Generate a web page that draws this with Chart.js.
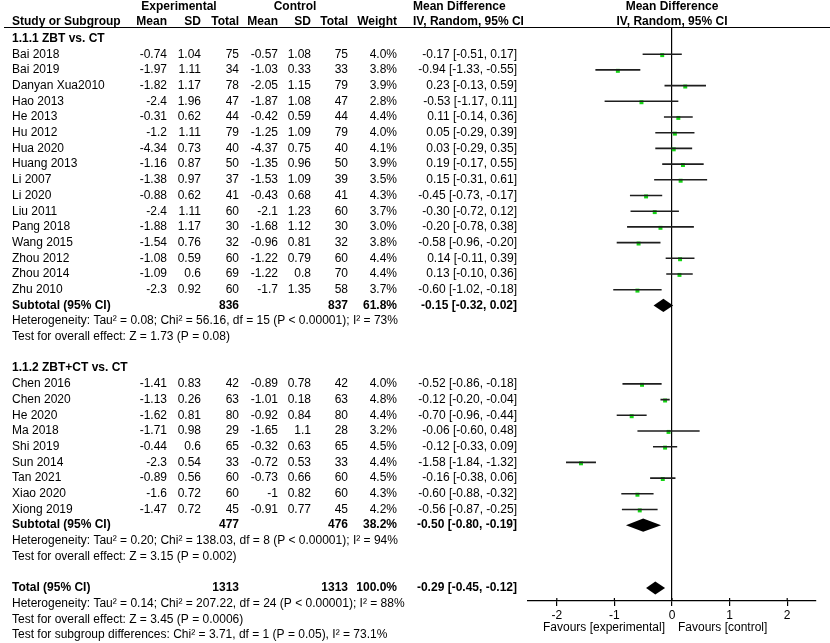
<!DOCTYPE html>
<html>
<head>
<meta charset="utf-8">
<script src="https://cdn.jsdelivr.net/npm/chart.js@4.4.1/dist/chart.umd.min.js"></script>
<style>
    html, body { margin: 0; padding: 0; background: #fff; }
    #forest { display: block; }
</style>
</head>
<body>
<canvas id="forest" width="830" height="643"></canvas>
<script>
// Study data
const studies = ['Bai 2018', 'Bai 2019', 'Danyan Xua2010', 'Hao 2013', 'He 2013', 'Hu 2012', 'Hua 2020', 'Huang 2013',
    'Li 2007', 'Li 2020', 'Liu 2011', 'Pang 2018', 'Wang 2015', 'Zhou 2012', 'Zhou 2014', 'Zhu 2010',
    'Chen 2016', 'Chen 2020', 'He 2020', 'Ma 2018', 'Shi 2019', 'Sun 2014', 'Tan 2021', 'Xiao 2020', 'Xiong 2019'];
const studyGroup = [0, 0, 0, 0, 0, 0, 0, 0, 0, 0, 0, 0, 0, 0, 0, 0, 1, 1, 1, 1, 1, 1, 1, 1, 1];
const expMean = [-0.74, -1.97, -1.82, -2.4, -0.31, -1.2, -4.34, -1.16, -1.38, -0.88, -2.4, -1.88, -1.54, -1.08, -1.09, -2.3,
    -1.41, -1.13, -1.62, -1.71, -0.44, -2.3, -0.89, -1.6, -1.47];
const expSD = [1.04, 1.11, 1.17, 1.96, 0.62, 1.11, 0.73, 0.87, 0.97, 0.62, 1.11, 1.17, 0.76, 0.59, 0.6, 0.92,
    0.83, 0.26, 0.81, 0.98, 0.6, 0.54, 0.56, 0.72, 0.72];
const expTotal = [75, 34, 78, 47, 44, 79, 40, 50, 37, 41, 60, 30, 32, 60, 69, 60, 42, 63, 80, 29, 65, 33, 60, 60, 45];
const ctlMean = [-0.57, -1.03, -2.05, -1.87, -0.42, -1.25, -4.37, -1.35, -1.53, -0.43, -2.1, -1.68, -0.96, -1.22, -1.22, -1.7,
    -0.89, -1.01, -0.92, -1.65, -0.32, -0.72, -0.73, -1, -0.91];
const ctlSD = [1.08, 0.33, 1.15, 1.08, 0.59, 1.09, 0.75, 0.96, 1.09, 0.68, 1.23, 1.12, 0.81, 0.79, 0.8, 1.35,
    0.78, 0.18, 0.84, 1.1, 0.63, 0.53, 0.66, 0.82, 0.77];
const ctlTotal = [75, 33, 79, 47, 44, 79, 40, 50, 39, 41, 60, 30, 32, 60, 70, 58, 42, 63, 80, 28, 65, 33, 60, 60, 45];
const weight = [4.0, 3.8, 3.9, 2.8, 4.4, 4.0, 4.1, 3.9, 3.5, 4.3, 3.7, 3.0, 3.8, 4.4, 4.4, 3.7, 4.0, 4.8, 4.4, 3.2, 4.5, 4.4, 4.5, 4.3, 4.2];
const meanDiff = [-0.17, -0.94, 0.23, -0.53, 0.11, 0.05, 0.03, 0.19, 0.15, -0.45, -0.30, -0.20, -0.58, 0.14, 0.13, -0.60,
    -0.52, -0.12, -0.70, -0.06, -0.12, -1.58, -0.16, -0.60, -0.56];
const ciLow = [-0.51, -1.33, -0.13, -1.17, -0.14, -0.29, -0.29, -0.17, -0.31, -0.73, -0.72, -0.78, -0.96, -0.11, -0.10, -1.02,
    -0.86, -0.20, -0.96, -0.60, -0.33, -1.84, -0.38, -0.88, -0.87];
const ciHigh = [0.17, -0.55, 0.59, 0.11, 0.36, 0.39, 0.35, 0.55, 0.61, -0.17, 0.12, 0.38, -0.20, 0.39, 0.36, -0.18,
    -0.18, -0.04, -0.44, 0.48, 0.09, -1.32, 0.06, -0.32, -0.25];

// Subgroup and overall summaries
const subgroupNames = ['1.1.1 ZBT vs. CT', '1.1.2 ZBT+CT vs. CT'];
const subExpTotal = [836, 477];
const subCtlTotal = [837, 476];
const subWeight = [61.8, 38.2];
const subMeanDiff = [-0.15, -0.50];
const subLow = [-0.32, -0.80];
const subHigh = [0.02, -0.19];
const subHeterogeneity = [
    'Heterogeneity: Tau² = 0.08; Chi² = 56.16, df = 15 (P < 0.00001); I² = 73%',
    'Heterogeneity: Tau² = 0.20; Chi² = 138.03, df = 8 (P < 0.00001); I² = 94%'
];
const subOverall = ['Test for overall effect: Z = 1.73 (P = 0.08)', 'Test for overall effect: Z = 3.15 (P = 0.002)'];
const totalCounts = [1313, 1313];
const totalEffect = [-0.29, -0.45, -0.12];
const totalNotes = [
    'Heterogeneity: Tau² = 0.14; Chi² = 207.22, df = 24 (P < 0.00001); I² = 88%',
    'Test for overall effect: Z = 3.45 (P = 0.0006)',
    'Test for subgroup differences: Chi² = 3.71, df = 1 (P = 0.05), I² = 73.1%'
];
const xTicks = [-2, -1, 0, 1, 2];

const FONT = '"Liberation Sans", Arial, sans-serif';
const SQUARE_GREEN = '#14d414';

// Lay out the rows: header, studies, subtotal, notes, blank per subgroup
const rows = [];
let r = 0;
subgroupNames.forEach((name, g) => {
    rows.push({ type: 'group', row: r++, g });
    studies.forEach((s, i) => {
        if (studyGroup[i] === g) rows.push({ type: 'study', row: r++, i });
    });
    rows.push({ type: 'subtotal', row: r++, g });
    rows.push({ type: 'note', row: r++, text: subHeterogeneity[g] });
    rows.push({ type: 'note', row: r++, text: subOverall[g] });
    r++;
});
rows.push({ type: 'total', row: r++ });
totalNotes.forEach(t => rows.push({ type: 'note', row: r++, text: t }));

const studyRows = rows.filter(x => x.type === 'study');
const subRows = rows.filter(x => x.type === 'subtotal');
const totalRow = rows.find(x => x.type === 'total');

// Whisker segments, separated by gaps
const whiskerData = [];
studyRows.forEach(sr => {
    whiskerData.push({ x: ciLow[sr.i], y: sr.row });
    whiskerData.push({ x: ciHigh[sr.i], y: sr.row });
    whiskerData.push({ x: null, y: null });
});
const pointData = studyRows.map(sr => ({ x: meanDiff[sr.i], y: sr.row + 0.06 }));

// Diamonds for pooled estimates
const diamonds = subRows.map(sr => ({ lo: subLow[sr.g], est: subMeanDiff[sr.g], hi: subHigh[sr.g], y: sr.row }));
diamonds.push({ lo: totalEffect[1], est: totalEffect[0], hi: totalEffect[2], y: totalRow.row });

const diamondPlugin = {
    id: 'diamonds',
    afterDatasetsDraw(chart) {
        const { ctx, scales: { x, y } } = chart;
        ctx.save();
        ctx.fillStyle = '#000';
        diamonds.forEach(d => {
            const cy = y.getPixelForValue(d.y);
            const half = Math.abs(y.getPixelForValue(d.y + 0.42) - cy);
            ctx.beginPath();
            ctx.moveTo(x.getPixelForValue(d.lo), cy);
            ctx.lineTo(x.getPixelForValue(d.est), cy - half);
            ctx.lineTo(x.getPixelForValue(d.hi), cy);
            ctx.lineTo(x.getPixelForValue(d.est), cy + half);
            ctx.closePath();
            ctx.fill();
        });

        // tick marks poke up above the axis line as well
        ctx.strokeStyle = '#000';
        ctx.lineWidth = 1.2;
        const base = chart.chartArea.bottom;
        xTicks.forEach(v => {
            const px = x.getPixelForValue(v);
            ctx.beginPath();
            ctx.moveTo(px, base - 3);
            ctx.lineTo(px, base);
            ctx.stroke();
        });
        ctx.restore();
    }
};

// Column positions for the table text
const COL = { name: 12, expMean: 167, expSD: 201, expTotal: 239, ctlMean: 278, ctlSD: 311, ctlTotal: 348, weight: 397, ci: 517, mdLeft: 413 };

function fmtCI(est, lo, hi) {
    return `${est.toFixed(2)} [${lo.toFixed(2)}, ${hi.toFixed(2)}]`;
}

function text(ctx, str, x, y, align, bold) {
    ctx.font = `${bold ? 'bold ' : ''}12px ${FONT}`;
    ctx.textAlign = align;
    ctx.fillText(str, x, y);
}

const tablePlugin = {
    id: 'table',
    afterDraw(chart) {
        const { ctx, scales: { x, y } } = chart;
        ctx.save();
        ctx.fillStyle = '#000';
        ctx.textBaseline = 'middle';

        // Header
        const mid = x.getPixelForValue(0);
        text(ctx, 'Experimental', 179, 7, 'center', true);
        text(ctx, 'Control', 295, 7, 'center', true);
        text(ctx, 'Mean Difference', COL.mdLeft, 7, 'left', true);
        text(ctx, 'Mean Difference', mid, 7, 'center', true);
        text(ctx, 'Study or Subgroup', COL.name, 22, 'left', true);
        text(ctx, 'Mean', COL.expMean, 22, 'right', true);
        text(ctx, 'SD', COL.expSD, 22, 'right', true);
        text(ctx, 'Total', COL.expTotal, 22, 'right', true);
        text(ctx, 'Mean', COL.ctlMean, 22, 'right', true);
        text(ctx, 'SD', COL.ctlSD, 22, 'right', true);
        text(ctx, 'Total', COL.ctlTotal, 22, 'right', true);
        text(ctx, 'Weight', COL.weight, 22, 'right', true);
        text(ctx, 'IV, Random, 95% CI', COL.mdLeft, 22, 'left', true);
        text(ctx, 'IV, Random, 95% CI', mid, 22, 'center', true);

        ctx.strokeStyle = '#000';
        ctx.lineWidth = 1;
        ctx.beginPath();
        ctx.moveTo(4, 27.5);
        ctx.lineTo(830, 27.5);
        ctx.stroke();

        // Body rows
        rows.forEach(row => {
            const py = y.getPixelForValue(row.row);
            if (row.type === 'group') {
                text(ctx, subgroupNames[row.g], COL.name, py, 'left', true);
            } else if (row.type === 'study') {
                const i = row.i;
                text(ctx, studies[i], COL.name, py, 'left', false);
                text(ctx, String(expMean[i]), COL.expMean, py, 'right', false);
                text(ctx, String(expSD[i]), COL.expSD, py, 'right', false);
                text(ctx, String(expTotal[i]), COL.expTotal, py, 'right', false);
                text(ctx, String(ctlMean[i]), COL.ctlMean, py, 'right', false);
                text(ctx, String(ctlSD[i]), COL.ctlSD, py, 'right', false);
                text(ctx, String(ctlTotal[i]), COL.ctlTotal, py, 'right', false);
                text(ctx, weight[i].toFixed(1) + '%', COL.weight, py, 'right', false);
                text(ctx, fmtCI(meanDiff[i], ciLow[i], ciHigh[i]), COL.ci, py, 'right', false);
            } else if (row.type === 'subtotal') {
                const g = row.g;
                text(ctx, 'Subtotal (95% CI)', COL.name, py, 'left', true);
                text(ctx, String(subExpTotal[g]), COL.expTotal, py, 'right', true);
                text(ctx, String(subCtlTotal[g]), COL.ctlTotal, py, 'right', true);
                text(ctx, subWeight[g].toFixed(1) + '%', COL.weight, py, 'right', true);
                text(ctx, fmtCI(subMeanDiff[g], subLow[g], subHigh[g]), COL.ci, py, 'right', true);
            } else if (row.type === 'total') {
                text(ctx, 'Total (95% CI)', COL.name, py, 'left', true);
                text(ctx, String(totalCounts[0]), COL.expTotal, py, 'right', true);
                text(ctx, String(totalCounts[1]), COL.ctlTotal, py, 'right', true);
                text(ctx, '100.0%', COL.weight, py, 'right', true);
                text(ctx, fmtCI(totalEffect[0], totalEffect[1], totalEffect[2]), COL.ci, py, 'right', true);
            } else if (row.type === 'note') {
                text(ctx, row.text, COL.name, py, 'left', false);
            }
        });

        // Favours labels under the axis
        text(ctx, 'Favours [experimental]', mid - 7, 628, 'right', false);
        text(ctx, 'Favours [control]', mid + 6, 628, 'left', false);
        ctx.restore();
    }
};

new Chart(document.getElementById('forest'), {
    type: 'scatter',
    data: {
        datasets: [
            {
                label: 'CI',
                data: whiskerData,
                showLine: true,
                spanGaps: false,
                borderColor: '#1e1e1e',
                borderWidth: 1.6,
                pointRadius: 0,
                pointHoverRadius: 0
            },
            {
                label: 'Mean difference',
                data: pointData,
                pointStyle: 'rect',
                pointRadius: 2.8,
                pointHoverRadius: 2.8,
                backgroundColor: SQUARE_GREEN,
                borderColor: SQUARE_GREEN,
                borderWidth: 0
            }
        ]
    },
    options: {
        responsive: false,
        animation: false,
        events: [],
        layout: { padding: { left: 528, right: 14, top: 27, bottom: 0 } },
        plugins: {
            legend: { display: false },
            tooltip: { enabled: false }
        },
        scales: {
            x: {
                type: 'linear',
                min: -2.5,
                max: 2.5,
                afterBuildTicks: scale => {
                    scale.ticks = xTicks.map(v => ({ value: v }));
                },
                afterFit: scale => {
                    scale.height = 42;
                },
                ticks: {
                    color: '#000',
                    padding: 2,
                    font: { family: FONT, size: 12 },
                    callback: v => String(v)
                },
                border: { color: '#000', width: 1.2 },
                grid: {
                    color: c => (c.tick && c.tick.value === 0 ? '#000' : 'rgba(0,0,0,0)'),
                    lineWidth: 1.2,
                    tickColor: '#000',
                    tickLength: 5
                }
            },
            y: {
                type: 'linear',
                reverse: true,
                min: -0.7325,
                max: 35.83,
                display: false
            }
        }
    },
    plugins: [diamondPlugin, tablePlugin]
});
</script>
</body>
</html>
